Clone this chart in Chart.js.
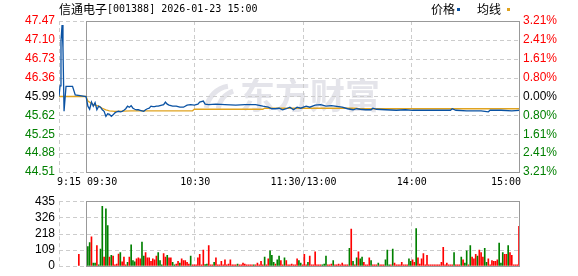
<!DOCTYPE html>
<html>
	<head>
		<meta charset="UTF-8" />
		<title>信通电子 分时</title>
		<style type="text/css">
html, body { margin: 0; padding: 0; background: #fff; overflow: hidden; }
#wrap { position: relative; width: 578px; height: 276px; }
#priceCanvas { position: absolute; left: 0; top: 0; }
#volCanvas { position: absolute; left: 0; top: 190px; }
		</style>
	</head>
	<body>
		<script src="https://cdn.jsdelivr.net/npm/chart.js@4.4.1/dist/chart.umd.min.js"></script>
		<div id="wrap">
			<canvas id="priceCanvas" width="578" height="190"></canvas>
			<canvas id="volCanvas" width="578" height="87"></canvas>
		</div>
		<script charset="utf-8">
			const stockName = '信通电子';
			const stockInfo = '[001388] 2026-01-23 15:00';
			const preClose = 45.99;

			// price axis (left) and change axis (right)
			const priceTicks = [44.51, 44.88, 45.25, 45.62, 45.99, 46.36, 46.73, 47.10, 47.47];
			const pctTicks = ['3.21%', '2.41%', '1.61%', '0.80%', '0.00%', '0.80%', '1.61%', '2.41%', '3.21%'];

			// minutes from 09:30 (pre-market starts at -15, 11:30 and 13:00 share 120)
			const xTickMinutes = [-15, 0, 60, 120, 180, 240];
			const xTickLabels = ['9:15', '09:30', '10:30', '11:30/13:00', '14:00', '15:00'];

			// price line
			const priceMinutes = [-15, -14.4, -13.9, -13.3, -12.8, -12.2, -11.1, -7.5, -6, 0,
				1, 2, 3, 4, 5, 6, 7, 8, 9, 10, 11, 12, 13, 14, 15, 16, 17, 18, 19, 20,
				21, 22, 23, 24, 25, 26, 27, 28, 29, 30, 31, 32, 33, 34, 35, 36, 37, 38, 39, 40,
				41, 42, 43, 44, 45, 46, 47, 48, 50, 52, 54, 56, 58, 60, 62, 63, 65, 66, 68, 72,
				77, 83, 88, 94, 98, 101, 103, 105, 107, 109, 111, 113, 115, 117, 119, 122, 124, 127, 130, 133,
				136, 138, 142, 145, 148, 150, 152, 155, 158, 159, 161, 166, 172, 177, 181, 191, 202, 203, 205, 211,
				219, 223, 224, 230, 236, 240];
			const priceValues = [45.99, 46.20, 47.08, 47.39, 46.95, 45.70, 46.19, 46.19, 46.02, 45.99,
				45.80, 45.74, 45.88, 45.80, 45.87, 45.73, 45.80, 45.78, 45.73, 45.70, 45.60, 45.65, 45.64, 45.60, 45.63, 45.67, 45.69, 45.70, 45.69, 45.70,
				45.72, 45.75, 45.80, 45.78, 45.81, 45.76, 45.74, 45.73, 45.73, 45.72, 45.71, 45.70, 45.73, 45.75, 45.76, 45.80, 45.79, 45.79, 45.80, 45.80,
				45.81, 45.82, 45.83, 45.88, 45.84, 45.82, 45.81, 45.80, 45.80, 45.78, 45.78, 45.82, 45.83, 45.82, 45.84, 45.88, 45.90, 45.84, 45.83, 45.84,
				45.83, 45.82, 45.83, 45.83, 45.80, 45.78, 45.75, 45.75, 45.76, 45.73, 45.75, 45.78, 45.73, 45.78, 45.76, 45.80, 45.78, 45.82, 45.83, 45.80,
				45.81, 45.80, 45.78, 45.75, 45.73, 45.75, 45.74, 45.73, 45.73, 45.76, 45.74, 45.73, 45.72, 45.73, 45.72, 45.72, 45.72, 45.75, 45.72, 45.71,
				45.71, 45.69, 45.72, 45.72, 45.71, 45.72];

			// average price line
			const avgMinutes = [-15, 0, 1, 4, 7, 9, 11, 13, 16, 25, 59, 60, 98, 99, 150, 151, 240];
			const avgValues = [45.99, 45.99, 45.90, 45.83, 45.80, 45.76, 45.73, 45.71, 45.70, 45.71, 45.71, 45.74, 45.74, 45.76, 45.76, 45.75, 45.75];

			// volume (lots), one bar per minute 1..240, r = up, g = down
			const preVolMinute = -4;
			const preVolValue = 78;
			const volumes = [
				130, 157, 195, 18, 18, 136, 6, 112, 401, 59, 384, 271, 59, 71, 65, 6, 12, 79, 89, 26,
				59, 6, 24, 59, 142, 35, 26, 47, 53, 47, 159, 65, 89, 53, 53, 30, 47, 41, 65, 89,
				35, 6, 83, 59, 71, 53, 53, 24, 6, 12, 30, 18, 47, 35, 35, 24, 12, 65, 6, 6,
				6, 53, 77, 6, 106, 8, 12, 136, 6, 6, 24, 53, 6, 6, 30, 6, 41, 6, 12, 41,
				6, 6, 6, 12, 6, 6, 18, 12, 6, 6, 6, 6, 6, 6, 18, 6, 30, 6, 59, 6,
				47, 100, 71, 24, 12, 41, 65, 35, 6, 53, 35, 6, 6, 12, 6, 6, 47, 35, 18, 6,
				77, 6, 24, 65, 6, 6, 94, 6, 6, 6, 6, 12, 65, 6, 6, 12, 35, 6, 6, 12,
				6, 18, 6, 6, 6, 118, 248, 30, 6, 53, 94, 47, 59, 24, 6, 6, 53, 35, 6, 6,
				6, 18, 6, 6, 6, 41, 106, 6, 6, 112, 18, 6, 6, 6, 24, 6, 6, 6, 47, 30,
				41, 24, 250, 53, 12, 47, 83, 6, 71, 6, 6, 6, 6, 6, 6, 6, 24, 124, 6, 18,
				6, 6, 6, 89, 6, 6, 6, 59, 41, 18, 100, 6, 136, 59, 47, 77, 65, 106, 89, 59,
				118, 24, 47, 6, 35, 30, 30, 41, 153, 18, 89, 77, 77, 136, 89, 71, 6, 6, 6, 266];
			const volSides =
				'ggrggrgggrggrgrrrrgr' +
				'rrgrgggrrrggrrrrrrrg' +
				'ggrrgrrggrrgrrrrrgrr' +
				'rrrrrggrrrgrrrrrrrrr' +
				'rrrgrrrrrrrrgrrrrrgr' +
				'rgggrggrrgrrrrrrrggr' +
				'rrgrrrrrrrgggrrrgrrr' +
				'rrrrrgrgrgrggrrrrgrr' +
				'rgrrrgggrgrrrrrrrrgg' +
				'rrgrrrrrrrrrrrrrrrrr' +
				'rrrgrrrgrggrgrrrgrrr' +
				'ggrrrrrrgggrrgrrrrrr';
			const volTicks = [0, 108.75, 217.5, 326.25, 435];

			const colUp = '#ff0000';
			const colDown = '#008000';
			const colPrice = '#0a52a3';
			const colAvg = '#e0a31f';
			const numFont = { family: '"Liberation Sans", Arial, sans-serif', size: 12 };

			function tickColor(v) {
				if (Math.abs(v - preClose) < 0.001) return '#000000';
				return v > preClose ? colUp : colDown;
			}

			// dashed grid, solid 09:30-15:00 frame and watermark
			const framePlugin = {
				id: 'frame',
				beforeDatasetsDraw(chart, args, opts) {
					const ctx = chart.ctx;
					const a = chart.chartArea;
					const xs = chart.scales.x;
					const ys = chart.scales.y;
					ctx.save();
					if (opts.watermark) {
						ctx.fillStyle = '#e4e4ea';
						ctx.font = 'bold 35px "Noto Sans CJK SC"';
						ctx.textBaseline = 'middle';
						ctx.textAlign = 'left';
						ctx.fillText('东方财富', 240, 96);
						ctx.lineWidth = 5;
						ctx.strokeStyle = '#e4e4ea';
						ctx.beginPath();
						ctx.arc(232, 112, 26, Math.PI * 1.05, Math.PI * 1.45);
						ctx.stroke();
						ctx.beginPath();
						ctx.arc(240, 112, 22, Math.PI * 1.05, Math.PI * 1.4);
						ctx.stroke();
					}
					ctx.strokeStyle = '#cccccc';
					ctx.lineWidth = 1;
					ctx.setLineDash([4, 3]);
					opts.yValues.forEach(v => {
						const py = Math.round(ys.getPixelForValue(v)) + 0.5;
						ctx.beginPath();
						ctx.moveTo(a.left, py);
						ctx.lineTo(a.right, py);
						ctx.stroke();
					});
					xTickMinutes.forEach(m => {
						if (m === 0 || m === 240) return;
						const px = Math.round(xs.getPixelForValue(m)) + 0.5;
						ctx.beginPath();
						ctx.moveTo(px, a.top);
						ctx.lineTo(px, a.bottom);
						ctx.stroke();
					});
					ctx.setLineDash([]);
					ctx.strokeStyle = '#999999';
					const x0 = Math.round(xs.getPixelForValue(0)) + 0.5;
					const x1 = Math.round(xs.getPixelForValue(240)) + 0.5;
					const t = Math.round(a.top) + 0.5;
					const b = Math.round(a.bottom) + 0.5;
					ctx.strokeRect(x0, t, x1 - x0, b - t);
					ctx.restore();
				}
			};

			// title, legend and time labels
			const textPlugin = {
				id: 'texts',
				afterDraw(chart) {
					const ctx = chart.ctx;
					const xs = chart.scales.x;
					ctx.save();
					ctx.fillStyle = '#000000';
					ctx.textBaseline = 'middle';
					ctx.textAlign = 'left';
					ctx.font = '12px "Noto Sans CJK SC"';
					ctx.fillText(stockName, 59, 9);
					ctx.fillText('价格', 431, 9.5);
					ctx.fillText('均线', 477, 9.5);
					ctx.font = '10px "DejaVu Sans Mono"';
					ctx.fillText(stockInfo, 107, 9);
					ctx.fillStyle = colPrice;
					ctx.fillRect(457, 8, 3, 3);
					ctx.fillStyle = colAvg;
					ctx.fillRect(507, 8, 3, 3);

					ctx.fillStyle = '#000000';
					const last = xTickMinutes.length - 1;
					xTickMinutes.forEach((m, i) => {
						const px = xs.getPixelForValue(m);
						if (i === 0) { ctx.textAlign = 'left'; ctx.fillText(xTickLabels[i], px - 2, 182); }
						else if (i === 1) { ctx.textAlign = 'left'; ctx.fillText(xTickLabels[i], px + 1, 182); }
						else if (i === last) { ctx.textAlign = 'right'; ctx.fillText(xTickLabels[i], px + 2, 182); }
						else { ctx.textAlign = 'center'; ctx.fillText(xTickLabels[i], px + 1, 182); }
					});
					ctx.restore();
				}
			};

			const priceData = priceMinutes.map((m, i) => ({ x: m, y: priceValues[i] }));
			const avgData = avgMinutes.map((m, i) => ({ x: m, y: avgValues[i] }));

			var priceChart = new Chart(document.getElementById('priceCanvas'), {
				type: 'line',
				data: {
					datasets: [
						{ label: '价格', data: priceData, borderColor: colPrice, borderWidth: 1.3, pointRadius: 0, tension: 0 },
						{ label: '均线', data: avgData, borderColor: colAvg, borderWidth: 1.3, pointRadius: 0, tension: 0 }
					]
				},
				options: {
					responsive: false,
					animation: false,
					layout: { padding: { top: 21, left: 0, right: 0, bottom: 0 } },
					plugins: {
						legend: { display: false },
						tooltip: { enabled: false },
						frame: { yValues: priceTicks, watermark: true }
					},
					scales: {
						x: {
							type: 'linear', min: -15, max: 240,
							ticks: { display: false },
							grid: { display: false, drawTicks: false },
							border: { display: false },
							afterFit: s => { s.height = 18; }
						},
						y: {
							position: 'left', min: 44.51, max: 47.47,
							afterBuildTicks: s => { s.ticks = priceTicks.map(v => ({ value: v })); },
							afterFit: s => { s.width = 59; },
							ticks: {
								padding: 4,
								font: numFont,
								callback: v => v.toFixed(2),
								color: c => tickColor(c.tick.value)
							},
							grid: { display: false, drawTicks: false },
							border: { display: false }
						},
						y2: {
							position: 'right', min: 44.51, max: 47.47,
							afterBuildTicks: s => { s.ticks = priceTicks.map(v => ({ value: v })); },
							afterFit: s => { s.width = 59; },
							ticks: {
								padding: 4,
								font: numFont,
								callback: (v, i) => pctTicks[i],
								color: c => tickColor(c.tick.value)
							},
							grid: { display: false, drawTicks: false },
							border: { display: false }
						}
					}
				},
				plugins: [framePlugin, textPlugin]
			});

			const volData = [{ x: preVolMinute, y: preVolValue }].concat(volumes.map((v, i) => ({ x: i + 1, y: v })));
			const volColors = [colUp].concat(volumes.map((v, i) => volSides[i] === 'r' ? colUp : colDown));

			var volChart = new Chart(document.getElementById('volCanvas'), {
				type: 'bar',
				data: {
					datasets: [{ label: '成交量', data: volData, backgroundColor: volColors, barThickness: 1, borderWidth: 0 }]
				},
				options: {
					responsive: false,
					animation: false,
					layout: { padding: { top: 6, left: 0, right: 59, bottom: 0 } },
					plugins: {
						legend: { display: false },
						tooltip: { enabled: false },
						frame: { yValues: volTicks, watermark: false }
					},
					scales: {
						x: {
							type: 'linear', min: -15, max: 240, offset: false,
							ticks: { display: false },
							grid: { display: false, drawTicks: false },
							border: { display: false },
							afterFit: s => { s.height = 7; }
						},
						y: {
							position: 'left', min: 0, max: 435,
							afterBuildTicks: s => { s.ticks = volTicks.map(v => ({ value: v })); },
							afterFit: s => { s.width = 59; },
							ticks: {
								padding: 4,
								font: numFont,
								color: '#000000',
								callback: v => String(Math.round(v))
							},
							grid: { display: false, drawTicks: false },
							border: { display: false }
						}
					}
				},
				plugins: [framePlugin]
			});
		</script>
	</body>
</html>
